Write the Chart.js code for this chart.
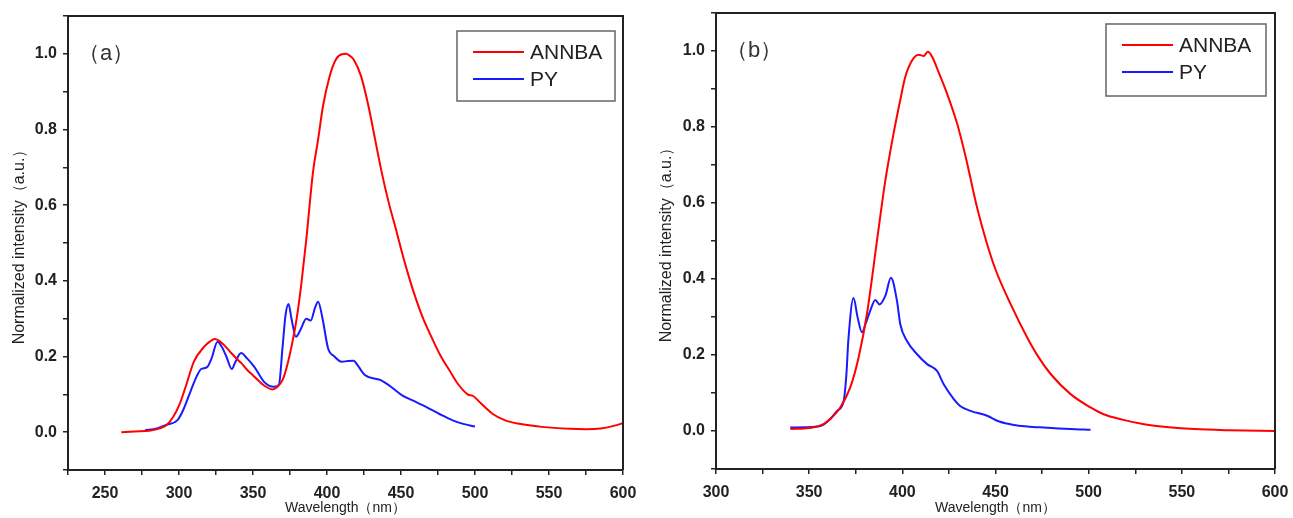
<html>
<head>
    <title>ANNBA / PY spectra</title>
    <meta charset="utf-8">
    <script src="https://cdn.jsdelivr.net/npm/chart.js"></script>
    <style>
        body {
            margin: 0;
            background-color: #ffffff;
        }
        .panel {
            position: absolute;
            top: 0;
            height: 518px;
        }
        #panelA { left: 0; width: 640px; }
        #panelB { left: 640px; width: 653px; }
    </style>
</head>
<body>
    <div class="panel" id="panelA"><canvas id="chartA"></canvas></div>
    <div class="panel" id="panelB"><canvas id="chartB"></canvas></div>
    <script>
        // (a) ANNBA
        const annbaA_wl  = [261, 270, 280, 287, 292, 296, 300, 304.5, 310, 317, 321, 324, 327, 330, 334, 338, 342, 346, 350, 354, 358, 363, 366, 370, 373, 376, 379.5, 382.6, 386, 390.5, 394, 397.3, 401.8, 406, 410, 413, 415, 418, 423, 428, 432.5, 437, 441.5, 447, 451, 455, 459, 465, 471, 477, 482.5, 488, 495, 499, 503, 507, 512, 520, 530, 545, 564, 575, 585, 595, 600];
        const annbaA_int = [0.0, 0.002, 0.004, 0.01, 0.02, 0.04, 0.07, 0.12, 0.186, 0.226, 0.24, 0.246, 0.242, 0.232, 0.215, 0.198, 0.183, 0.165, 0.15, 0.135, 0.122, 0.113, 0.118, 0.138, 0.175, 0.226, 0.3, 0.39, 0.509, 0.686, 0.774, 0.862, 0.941, 0.985, 0.999, 1.0, 0.996, 0.985, 0.941, 0.862, 0.774, 0.686, 0.61, 0.53, 0.47, 0.415, 0.365, 0.3, 0.248, 0.2, 0.165, 0.13, 0.1, 0.095, 0.08, 0.065, 0.048, 0.032, 0.022, 0.014, 0.009, 0.008, 0.01, 0.018, 0.024];
        // (a) PY
        const pyA_wl  = [277, 285, 292, 299, 303, 308, 312, 315, 319, 322, 326, 329, 332, 335.7, 338, 342, 346, 351, 357.5, 364, 367.5, 370, 372, 374, 376, 379, 382, 386, 389, 392, 394, 397, 400.7, 405, 410, 414, 418, 421, 425.6, 436, 441.5, 450.5, 460, 468.7, 476, 484.5, 492, 500];
        const pyA_int = [0.005, 0.01, 0.02, 0.032, 0.06, 0.11, 0.148, 0.167, 0.172, 0.195, 0.239, 0.225, 0.2, 0.167, 0.185, 0.209, 0.195, 0.172, 0.133, 0.12, 0.125, 0.226, 0.31, 0.339, 0.3, 0.252, 0.27, 0.3, 0.295, 0.33, 0.345, 0.3, 0.222, 0.2, 0.186, 0.188, 0.189, 0.175, 0.151, 0.138, 0.125, 0.098, 0.08, 0.063, 0.048, 0.032, 0.022, 0.015];

        // (b) ANNBA
        const annbaB_wl  = [340, 350, 357.7, 362, 366.7, 372, 376.5, 381, 386.4, 390.9, 395.3, 398.9, 401.6, 405.2, 408.8, 411.5, 413.6, 416, 418.6, 424, 429.4, 434, 440, 445, 450, 458, 467, 473, 479.6, 490.3, 501, 508, 518, 529.7, 543, 556.6, 575, 600];
        const annbaB_int = [0.005, 0.008, 0.018, 0.035, 0.062, 0.114, 0.193, 0.308, 0.501, 0.66, 0.783, 0.871, 0.932, 0.975, 0.99, 0.987, 0.998, 0.985, 0.955, 0.888, 0.809, 0.721, 0.59, 0.5, 0.425, 0.335, 0.246, 0.195, 0.15, 0.097, 0.062, 0.044, 0.03, 0.018, 0.01, 0.005, 0.002, 0.0];
        // (b) PY
        const pyB_wl  = [339.8, 348, 356, 361, 365, 368.5, 370, 371, 373.8, 376, 378.3, 380.5, 382.8, 385.5, 387.8, 390.9, 393.9, 397.1, 398.9, 402.5, 407.9, 413.3, 418.6, 422.2, 427.6, 431, 436.6, 445.5, 452, 459.8, 467, 475.8, 490, 501];
        const pyB_int = [0.009, 0.01, 0.013, 0.03, 0.053, 0.079, 0.15, 0.237, 0.35, 0.299, 0.26, 0.285, 0.317, 0.345, 0.333, 0.356, 0.403, 0.343, 0.281, 0.237, 0.202, 0.176, 0.158, 0.123, 0.084, 0.066, 0.053, 0.04, 0.025, 0.016, 0.012, 0.009, 0.005, 0.003];

        // axis ticks
        const xTicksA  = [225, 250, 275, 300, 325, 350, 375, 400, 425, 450, 475, 500, 525, 550, 575, 600];
        const xLabelsA = [250, 300, 350, 400, 450, 500, 550, 600];
        const xTicksB  = [300, 325, 350, 375, 400, 425, 450, 475, 500, 525, 550, 575, 600];
        const xLabelsB = [300, 350, 400, 450, 500, 550, 600];
        const yTicks   = [-0.1, 0, 0.1, 0.2, 0.3, 0.4, 0.5, 0.6, 0.7, 0.8, 0.9, 1.0, 1.1];
        const yLabels  = [0, 0.2, 0.4, 0.6, 0.8, 1.0];

        const FONT = 'Arial, "Liberation Sans", sans-serif';
        const INK = '#222222';

        function toPoints(xs, ys) {
            return xs.map((x, i) => ({ x: x, y: ys[i] }));
        }

        function hasLabel(list, v) {
            return list.some(l => Math.abs(l - v) < 1e-6);
        }

        // frame on top/right, boxed legend and panel tag
        const panelDeco = {
            id: 'panelDeco',
            afterDraw(chart, args, opts) {
                const ctx = chart.ctx;
                const a = chart.chartArea;
                ctx.save();
                ctx.strokeStyle = INK;
                ctx.lineWidth = 2;
                ctx.beginPath();
                ctx.moveTo(a.left, a.top);
                ctx.lineTo(a.right, a.top);
                ctx.lineTo(a.right, a.bottom);
                ctx.stroke();

                // legend box
                const b = opts.box;
                ctx.strokeStyle = '#666666';
                ctx.lineWidth = 1.5;
                ctx.strokeRect(b.x, b.y, b.w, b.h);
                ctx.font = '21px ' + FONT;
                ctx.textBaseline = 'middle';
                chart.data.datasets.forEach((ds, i) => {
                    const y = b.y + 21 + i * 27;
                    ctx.strokeStyle = ds.borderColor;
                    ctx.lineWidth = 2;
                    ctx.beginPath();
                    ctx.moveTo(b.x + 16, y);
                    ctx.lineTo(b.x + 67, y);
                    ctx.stroke();
                    ctx.fillStyle = INK;
                    ctx.fillText(ds.label, b.x + 73, y + 1);
                });

                // panel tag
                ctx.font = '22px ' + FONT;
                ctx.fillStyle = '#333333';
                ctx.fillText(opts.tag, a.left + opts.tagDx, a.top + opts.tagDy);
                ctx.restore();
            }
        };

        function makeChart(id, series, cfg) {
            const ctx = document.getElementById(id).getContext('2d');
            return new Chart(ctx, {
                type: 'line',
                data: {
                    datasets: series.map(s => ({
                        label: s.label,
                        data: s.data,
                        borderColor: s.color,
                        borderWidth: 2,
                        pointRadius: 0,
                        fill: false,
                        cubicInterpolationMode: 'monotone'
                    }))
                },
                options: {
                    responsive: true,
                    maintainAspectRatio: false,
                    animation: false,
                    layout: {
                        padding: { left: 0, top: cfg.top, right: cfg.right, bottom: 0 }
                    },
                    scales: {
                        x: {
                            type: 'linear',
                            min: cfg.xMin,
                            max: cfg.xMax,
                            afterBuildTicks: scale => { scale.ticks = cfg.xTicks.map(v => ({ value: v })); },
                            afterFit: scale => {
                                scale.height = cfg.xHeight;
                                scale.paddingLeft = 0;
                                scale.paddingRight = 0;
                            },
                            ticks: {
                                autoSkip: false,
                                maxRotation: 0,
                                padding: 9,
                                color: INK,
                                font: { family: FONT, size: 16, weight: 'bold' },
                                callback: v => hasLabel(cfg.xLabels, v) ? String(v) : ''
                            },
                            grid: {
                                drawOnChartArea: false,
                                drawTicks: true,
                                tickLength: 5,
                                color: INK,
                                lineWidth: 1.5
                            },
                            border: { display: true, color: INK, width: 2 },
                            title: {
                                display: true,
                                text: 'Wavelength（nm）',
                                color: INK,
                                font: { family: FONT, size: 14 },
                                padding: { top: 0, bottom: 1 }
                            }
                        },
                        y: {
                            type: 'linear',
                            min: -0.1,
                            max: 1.1,
                            afterBuildTicks: scale => { scale.ticks = yTicks.map(v => ({ value: v })); },
                            afterFit: scale => {
                                scale.width = cfg.yWidth;
                                scale.paddingTop = 0;
                                scale.paddingBottom = 0;
                            },
                            ticks: {
                                autoSkip: false,
                                padding: 6,
                                color: INK,
                                font: { family: FONT, size: 16, weight: 'bold' },
                                callback: v => hasLabel(yLabels, v) ? v.toFixed(1) : ''
                            },
                            grid: {
                                drawOnChartArea: false,
                                drawTicks: true,
                                tickLength: 5,
                                color: INK,
                                lineWidth: 1.5
                            },
                            border: { display: true, color: INK, width: 2 },
                            title: {
                                display: true,
                                text: 'Normalized intensity（a.u.）',
                                color: INK,
                                font: { family: FONT, size: 16 },
                                padding: { top: cfg.yTitlePad, bottom: 0 }
                            }
                        }
                    },
                    plugins: {
                        legend: { display: false },
                        tooltip: { enabled: false },
                        panelDeco: { box: cfg.box, tag: cfg.tag, tagDx: 10, tagDy: 38 }
                    }
                },
                plugins: [panelDeco]
            });
        }

        makeChart('chartA', [
            { label: 'ANNBA', color: '#ff0000', data: toPoints(annbaA_wl, annbaA_int) },
            { label: 'PY', color: '#1a1aff', data: toPoints(pyA_wl, pyA_int) }
        ], {
            xMin: 225, xMax: 600, xTicks: xTicksA, xLabels: xLabelsA,
            top: 16, right: 17, yWidth: 68, xHeight: 48, yTitlePad: 10,
            box: { x: 457, y: 31, w: 158, h: 70 }, tag: '（a）'
        });

        makeChart('chartB', [
            { label: 'ANNBA', color: '#ff0000', data: toPoints(annbaB_wl, annbaB_int) },
            { label: 'PY', color: '#1a1aff', data: toPoints(pyB_wl, pyB_int) }
        ], {
            xMin: 300, xMax: 600, xTicks: xTicksB, xLabels: xLabelsB,
            top: 13, right: 18, yWidth: 76, xHeight: 49, yTitlePad: 17,
            box: { x: 466, y: 24, w: 160, h: 72 }, tag: '（b）'
        });
    </script>
</body>
</html>
